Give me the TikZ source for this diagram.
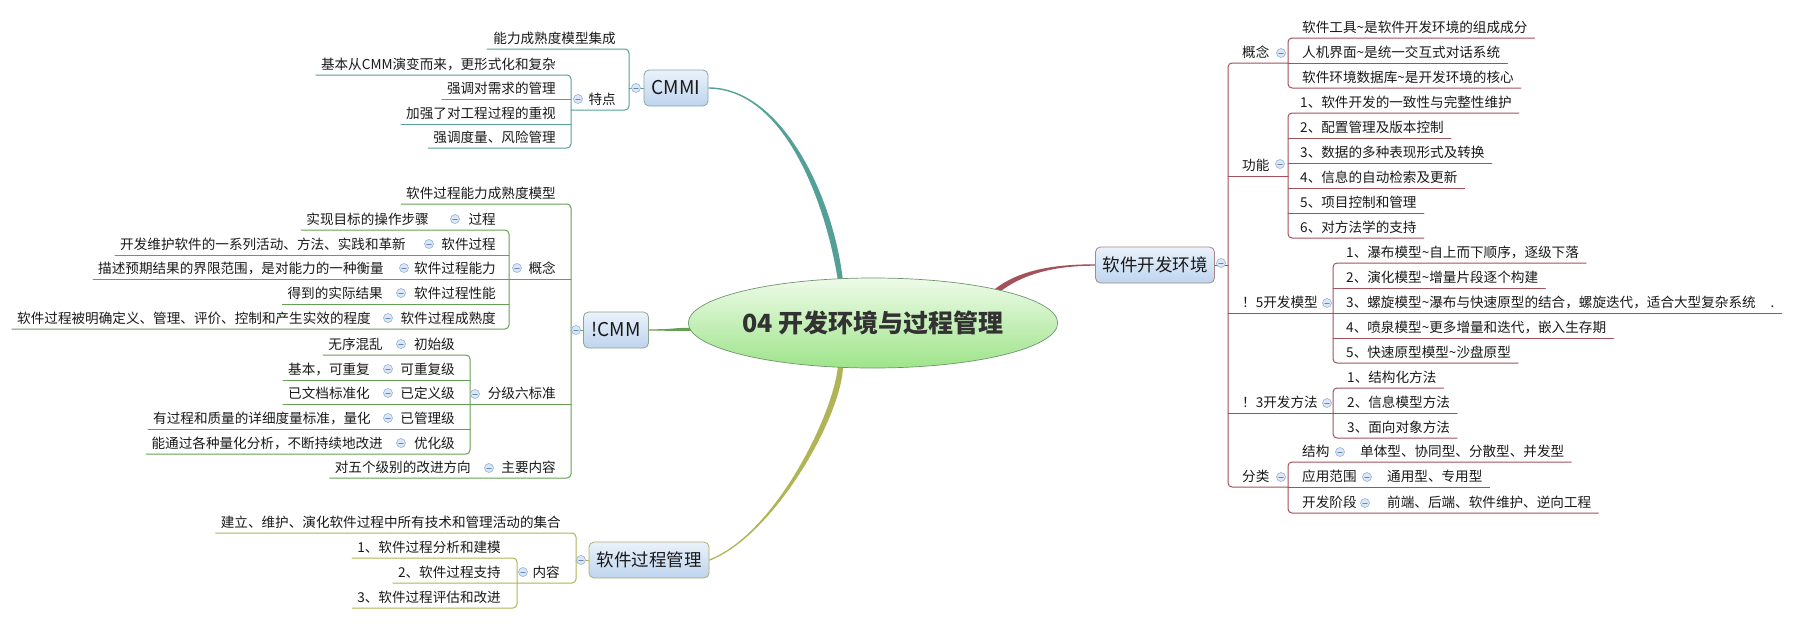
\documentclass[tikz,border=0pt]{standalone}
\usepackage{fontspec}
\setmainfont{Noto Sans CJK SC}
\usetikzlibrary{calc,shapes.geometric}
\pgfdeclarelayer{bg}
\pgfsetlayers{bg,main}
\definecolor{cteal}{RGB}{84,160,152}
\definecolor{cgrn}{RGB}{100,160,84}
\definecolor{coli}{RGB}{176,180,84}
\definecolor{cred}{RGB}{164,82,90}
\definecolor{txt}{RGB}{25,25,25}
\definecolor{mnf}{RGB}{220,231,245}
\definecolor{mnb}{RGB}{150,178,214}
\definecolor{mnl}{RGB}{100,135,190}
\definecolor{boxT}{RGB}{234,242,251}
\definecolor{boxB}{RGB}{190,212,238}
\definecolor{rootT}{RGB}{238,251,232}
\definecolor{rootB}{RGB}{158,228,138}
\definecolor{rootD}{RGB}{110,150,110}
\definecolor{rootTx}{RGB}{50,50,50}
\newcommand\tld{\textasciitilde}
\tikzset{
 lt/.style={anchor=base east, inner sep=0pt, text=txt, font=\fontsize{13.6}{16}\selectfont},
 rt/.style={anchor=base west, inner sep=0pt, text=txt, font=\fontsize{13.6}{16}\selectfont},
 mn/.style={circle, draw=mnb, fill=mnf, line width=0.6pt, minimum size=9pt, inner sep=0pt,
   path picture={\draw[mnl, line width=0.9pt] ($(path picture bounding box.center)+(-2.2,0)$) -- ($(path picture bounding box.center)+(2.2,0)$);}},
 topic/.style={rounded corners=5pt, top color=boxT, bottom color=boxB, minimum height=36pt, inner xsep=2pt, text=txt, font=\fontsize{19}{21}\selectfont, line width=0.8pt},
 rootnode/.style={ellipse, draw=rootD, line width=0.7pt, top color=rootT, bottom color=rootB, minimum width=326pt, minimum height=90pt, inner sep=0pt, text=rootTx, font=\fontsize{25}{28}\selectfont\bfseries},
 ln/.style={line width=1pt},
 rc/.style={line width=1pt, rounded corners=4pt},
}
\begin{document}
\begin{tikzpicture}[x=1pt,y=-1pt,line cap=round,line join=round]
\begin{pgfonlayer}{bg}
\fill[white] (0,0) rectangle (1794,624);
\end{pgfonlayer}
\useasboundingbox (0,0) rectangle (1794,624);

% ---------- root and main topics ----------
\node[rootnode] (root) at (873,323) {04 开发环境与过程管理};
\node[topic, draw=cteal!50!gray!80, minimum width=64pt] (cmmi) at (676,88) {CMMI};
\node[topic, draw=cgrn!50!gray!80, minimum width=65pt] (cmm) at (616,330) {!CMM};
\node[topic, draw=coli!70!gray!90, minimum width=120pt, font=\fontsize{17.5}{20}\selectfont] (spm) at (649,560) {软件过程管理};
\node[topic, draw=cred!50!gray!80, minimum width=119pt, font=\fontsize{17.5}{20}\selectfont] (sde) at (1155,265) {软件开发环境};

% ---------- main connectors (tapered) ----------
\begin{pgfonlayer}{bg}
\fill[cteal] ($(cmmi.east)+(0,-0.7)$) .. controls +(72,0) and +(-10,-88) .. ($(root.126)+(2.5,3)$)
  -- ($(root.126)+(-2.5,3)$) .. controls +(-14,-88) and +(72,0) .. ($(cmmi.east)+(0,0.7)$) -- cycle;
\fill[coli] ($(spm.east)+(0,-0.7)$) .. controls +(65,-25) and +(-4,50) .. ($(root.234)+(-2.5,-3)$)
  -- ($(root.234)+(2.5,-3)$) .. controls +(0,50) and +(65,-25) .. ($(spm.east)+(0,0.7)$) -- cycle;
\fill[cgrn] ($(cmm.east)+(0,-0.7)$) .. controls +(30,0) and +(-25,0) .. ($(root.182)+(3,-1.6)$)
  -- ($(root.182)+(3,1.6)$) .. controls +(-25,0) and +(30,0) .. ($(cmm.east)+(0,0.7)$) -- cycle;
\fill[cred] ($(root.15)+(-3.6,0)$) .. controls +(25,-20) and +(-40,0) .. ($(sde.west)+(0,-0.7)$)
  -- ($(sde.west)+(0,0.7)$) .. controls +(-40,0) and +(25,-20) .. ($(root.15)+(-0.4,4)$) -- cycle;
\end{pgfonlayer}

% ---------- CMMI ----------
\node[lt] (c0) at (616,43) {能力成熟度模型集成};
\node[lt] (c1) at (616,104) {特点};
\node[lt] (c2) at (556,69) {基本从CMM演变而来，更形式化和复杂};
\node[lt] (c3) at (556,93) {强调对需求的管理};
\node[lt] (c4) at (556,118) {加强了对工程过程的重视};
\node[lt] (c5) at (556,142) {强调度量、风险管理};
\begin{scope}[draw=cteal]
\draw[rc] ($(c0.base west)+(-6,6)$) -- (629,49) -- (629,110) -- (571,110);
\draw[ln] (629,88) -- (cmmi.west);
\draw[rc] ($(c2.base west)+(-5,6)$) -- (571,75) -- (571,148) -- ($(c5.base west)+(-5,6)$);
\draw[ln] ($(c3.base west)+(-5,6)$) -- (571,99);
\draw[ln] ($(c4.base west)+(-5,6)$) -- (571,124);
\end{scope}
\node[mn] (m1) at (636,88) {};
\node[mn] (m2) at (578,99) {};

% ---------- !CMM ----------
\node[lt] (d0) at (556,198) {软件过程能力成熟度模型};
\node[lt] (d1) at (556,273) {概念};
\node[lt] (d2) at (556,398) {分级六标准};
\node[lt] (d3) at (556,472) {主要内容};
\node[lt] (d3a) at (471,472) {对五个级别的改进方向};
\node[lt] (e1) at (496,224) {过程};
\node[lt] (e1a) at (429,224) {实现目标的操作步骤};
\node[lt] (e2) at (496,249) {软件过程};
\node[lt] (e2a) at (406,249) {开发维护软件的一系列活动、方法、实践和革新};
\node[lt] (e3) at (496,273) {软件过程能力};
\node[lt] (e3a) at (384,273) {描述预期结果的界限范围，是对能力的一种衡量};
\node[lt] (e4) at (496,298) {软件过程性能};
\node[lt] (e4a) at (383,298) {得到的实际结果};
\node[lt] (e5) at (496,323) {软件过程成熟度};
\node[lt] (e5a) at (371,323) {软件过程被明确定义、管理、评价、控制和产生实效的程度};
\node[lt] (f1) at (455,349) {初始级};
\node[lt] (f1a) at (383,349) {无序混乱};
\node[lt] (f2) at (455,374) {可重复级};
\node[lt] (f2a) at (370,374) {基本，可重复};
\node[lt] (f3) at (455,398) {已定义级};
\node[lt] (f3a) at (370,398) {已文档标准化};
\node[lt] (f4) at (455,423) {已管理级};
\node[lt] (f4a) at (371,423) {有过程和质量的详细度量标准，量化};
\node[lt] (f5) at (455,448) {优化级};
\node[lt] (f5a) at (383,448) {能通过各种量化分析，不断持续地改进};
\begin{scope}[draw=cgrn]
\draw[rc] ($(d0.base west)+(-5,6)$) -- (571,204) -- (571,478) -- ($(d3a.base west)+(-5,6)$);
\draw[ln] (571,330) -- (cmm.west);
\draw[rc] ($(e1a.base west)+(-5,6)$) -- (509,230) -- (509,329) -- ($(e5a.base west)+(-5,6)$);
\draw[ln] ($(e2a.base west)+(-5,6)$) -- (509,255);
\draw[ln] ($(e3a.base west)+(-5,6)$) -- (571,279);
\draw[ln] ($(e4a.base west)+(-5,6)$) -- (509,304);
\draw[rc] ($(f1a.base west)+(-5,6)$) -- (470,355) -- (470,454) -- ($(f5a.base west)+(-5,6)$);
\draw[ln] ($(f2a.base west)+(-5,6)$) -- (470,380);
\draw[ln] ($(f3a.base west)+(-5,6)$) -- (571,404);
\draw[ln] ($(f4a.base west)+(-5,6)$) -- (470,429);
\end{scope}
\node[mn] (m3) at (576,330) {};
\node[mn] (m4) at (517,268) {};
\node[mn] (m5) at (475,394) {};
\node[mn] (m6) at (489,468) {};
\node[mn] (m7) at (455,219) {};
\node[mn] (m8) at (429,244) {};
\node[mn] (m9) at (404,268) {};
\node[mn] (m10) at (401,293) {};
\node[mn] (m11) at (388,318) {};
\node[mn] (m12) at (401,344) {};
\node[mn] (m13) at (388,369) {};
\node[mn] (m14) at (388,393) {};
\node[mn] (m15) at (388,418) {};
\node[mn] (m16) at (401,443) {};

% ---------- 软件过程管理 ----------
\node[lt] (g0) at (561,527) {建立、维护、演化软件过程中所有技术和管理活动的集合};
\node[lt] (g1) at (560,577) {内容};
\node[lt] (g1a) at (501,552) {1、软件过程分析和建模};
\node[lt] (g1b) at (501,577) {2、软件过程支持};
\node[lt] (g1c) at (501,602) {3、软件过程评估和改进};
\begin{scope}[draw=coli]
\draw[rc] ($(g0.base west)+(-5,6)$) -- (576,533) -- (576,583) -- ($(g1b.base west)+(-5,6)$);
\draw[rc] ($(g1a.base west)+(-5,6)$) -- (517,558) -- (517,608) -- ($(g1c.base west)+(-5,6)$);
\draw[ln] (576,560) -- (spm.west);
\end{scope}
\node[mn] (m17) at (581,560) {};
\node[mn] (m18) at (523,572) {};

% ---------- 软件开发环境 ----------
\node[rt] (h1) at (1242,57) {概念};
\node[rt] (h2) at (1242,170) {功能};
\node[rt] (h3) at (1242,307) {！5开发模型};
\node[rt] (h4) at (1242,407) {！3开发方法};
\node[rt] (h5) at (1242,481) {分类};
\node[rt] (i1) at (1302,32) {软件工具\tld 是软件开发环境的组成成分};
\node[rt] (i2) at (1302,57) {人机界面\tld 是统一交互式对话系统};
\node[rt] (i3) at (1302,82) {软件环境数据库\tld 是开发环境的核心};
\node[rt] (j1) at (1300,107) {1、软件开发的一致性与完整性维护};
\node[rt] (j2) at (1300,132) {2、配置管理及版本控制};
\node[rt] (j3) at (1300,157) {3、数据的多种表现形式及转换};
\node[rt] (j4) at (1300,182) {4、信息的自动检索及更新};
\node[rt] (j5) at (1300,207) {5、项目控制和管理};
\node[rt] (j6) at (1300,232) {6、对方法学的支持};
\node[rt] (k1) at (1346,257) {1、瀑布模型\tld 自上而下顺序，逐级下落};
\node[rt] (k2) at (1346,282) {2、演化模型\tld 增量片段逐个构建};
\node[rt] (k3) at (1346,307) {3、螺旋模型\tld 瀑布与快速原型的结合，螺旋迭代，适合大型复杂系统\hspace{15pt}.};
\node[rt] (k4) at (1346,332) {4、喷泉模型\tld 更多增量和迭代，嵌入生存期};
\node[rt] (k5) at (1346,357) {5、快速原型模型\tld 沙盘原型};
\node[rt] (l1) at (1347,382) {1、结构化方法};
\node[rt] (l2) at (1347,407) {2、信息模型方法};
\node[rt] (l3) at (1347,432) {3、面向对象方法};
\node[rt] (n1) at (1302,456) {结构};
\node[rt] (n1a) at (1360,456) {单体型、协同型、分散型、并发型};
\node[rt] (n2) at (1302,481) {应用范围};
\node[rt] (n2a) at (1387,481) {通用型、专用型};
\node[rt] (n3) at (1302,507) {开发阶段};
\node[rt] (n3a) at (1387,507) {前端、后端、软件维护、逆向工程};
\begin{scope}[draw=cred]
\draw[rc] (1288,63) -- (1228,63) -- (1228,487) -- (1288,487);
\draw[ln] (sde.east) -- (1228,265);
\draw[ln] (1228,176) -- (1288,176);
\draw[ln] (1228,313) -- (1333,313);
\draw[ln] (1228,413) -- (1333,413);
\draw[rc] ($(i1.base east)+(7,6)$) -- (1288,38) -- (1288,88) -- ($(i3.base east)+(7,6)$);
\draw[ln] (1288,63) -- ($(i2.base east)+(7,6)$);
\draw[rc] ($(j1.base east)+(7,6)$) -- (1288,113) -- (1288,238) -- ($(j6.base east)+(7,6)$);
\draw[ln] (1288,138) -- ($(j2.base east)+(7,6)$);
\draw[ln] (1288,163) -- ($(j3.base east)+(7,6)$);
\draw[ln] (1288,188) -- ($(j4.base east)+(7,6)$);
\draw[ln] (1288,213) -- ($(j5.base east)+(7,6)$);
\draw[rc] ($(k1.base east)+(7,6)$) -- (1333,263) -- (1333,363) -- ($(k5.base east)+(7,6)$);
\draw[ln] (1333,288) -- ($(k2.base east)+(7,6)$);
\draw[ln] (1333,313) -- ($(k3.base east)+(7,6)$);
\draw[ln] (1333,338) -- ($(k4.base east)+(7,6)$);
\draw[rc] ($(l1.base east)+(7,6)$) -- (1333,388) -- (1333,438) -- ($(l3.base east)+(7,6)$);
\draw[ln] (1333,413) -- ($(l2.base east)+(7,6)$);
\draw[rc] ($(n1a.base east)+(7,6)$) -- (1288,462) -- (1288,513) -- ($(n3a.base east)+(7,6)$);
\draw[ln] (1288,487) -- ($(n2a.base east)+(7,6)$);
\end{scope}
\node[mn] (m19) at (1221,263) {};
\node[mn] (m20) at (1281,53) {};
\node[mn] (m21) at (1280,164) {};
\node[mn] (m22) at (1327,303) {};
\node[mn] (m23) at (1327,403) {};
\node[mn] (m24) at (1281,477) {};
\node[mn] (m25) at (1340,452) {};
\node[mn] (m26) at (1367,477) {};
\node[mn] (m27) at (1365,503) {};
\end{tikzpicture}
\end{document}
